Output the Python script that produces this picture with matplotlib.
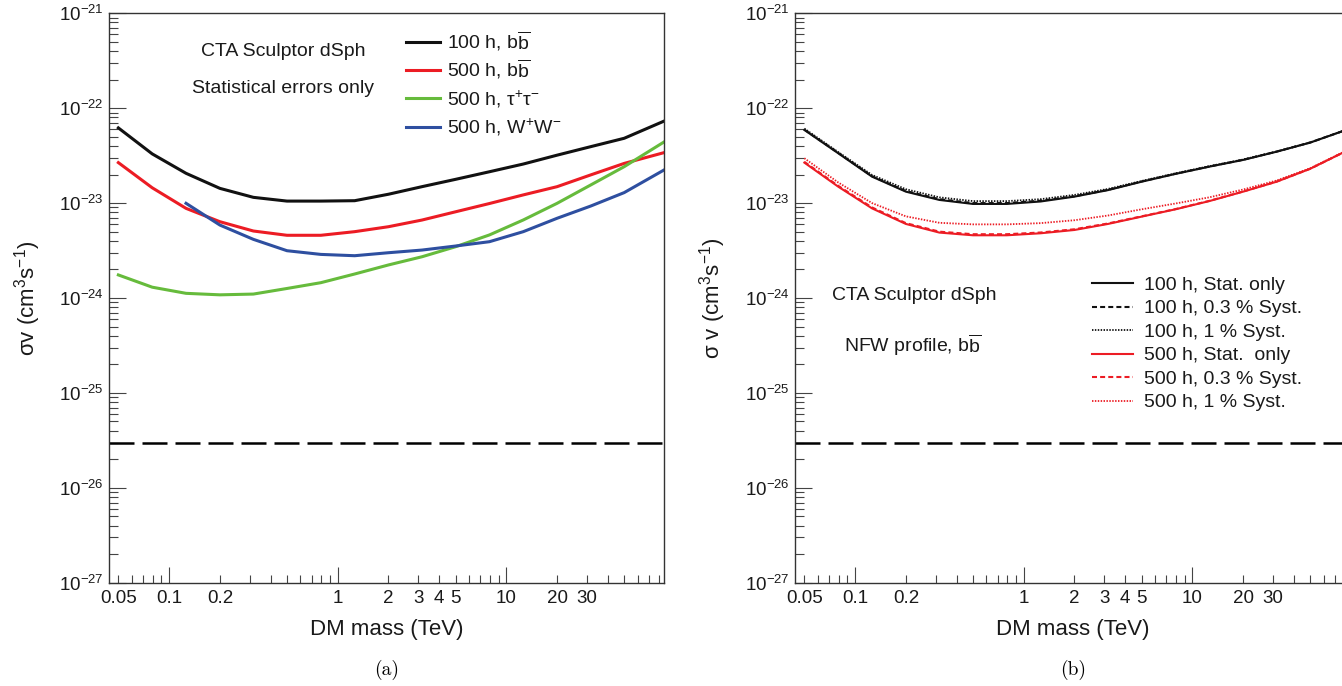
import numpy as np
import matplotlib
matplotlib.use('Agg')
import matplotlib.pyplot as plt
from matplotlib.lines import Line2D
from matplotlib.ticker import FixedLocator, FuncFormatter, NullFormatter

plt.rcParams['font.family'] = ['Liberation Sans', 'DejaVu Sans']
plt.rcParams['mathtext.fontset'] = 'custom'
plt.rcParams['mathtext.rm'] = 'Liberation Sans'
plt.rcParams['mathtext.it'] = 'Liberation Sans:italic'
plt.rcParams['mathtext.bf'] = 'Liberation Sans:bold'
plt.rcParams['mathtext.sf'] = 'Liberation Sans'
plt.rcParams['mathtext.default'] = 'rm'

# ---------------- data ----------------
mass = [0.05, 0.0794, 0.126, 0.2, 0.316, 0.5, 0.794, 1.26, 2.0, 3.16, 5.0,
        7.94, 12.6, 20.0, 31.6, 50.0, 86.0]
mass_ww = mass[2:]

# panel (a): statistical errors only
sv_bb_100h = [6.2e-23, 3.3e-23, 2.06e-23, 1.43e-23, 1.15e-23, 1.05e-23, 1.05e-23,
              1.06e-23, 1.24e-23, 1.49e-23, 1.78e-23, 2.14e-23, 2.58e-23, 3.2e-23,
              3.93e-23, 4.82e-23, 7.3e-23]
sv_bb_500h = [2.67e-23, 1.45e-23, 8.8e-24, 6.37e-24, 5.08e-24, 4.58e-24, 4.58e-24,
              5.0e-24, 5.64e-24, 6.63e-24, 8.1e-24, 9.9e-24, 1.22e-23, 1.49e-23,
              1.98e-23, 2.62e-23, 3.4e-23]
sv_tau_500h = [1.75e-24, 1.30e-24, 1.12e-24, 1.08e-24, 1.10e-24, 1.26e-24, 1.45e-24,
               1.79e-24, 2.23e-24, 2.72e-24, 3.47e-24, 4.62e-24, 6.64e-24, 9.95e-24,
               1.55e-23, 2.42e-23, 4.4e-23]
sv_ww_500h = [9.95e-24, 5.87e-24, 4.15e-24, 3.15e-24, 2.88e-24, 2.79e-24, 3.0e-24,
              3.2e-24, 3.53e-24, 3.92e-24, 5.0e-24, 6.92e-24, 9.3e-24, 1.29e-23, 2.23e-23]

# panel (b): NFW profile, b bbar, with systematics
sv_100h_stat = [5.9e-23, 3.35e-23, 1.9e-23, 1.32e-23, 1.08e-23, 9.8e-24, 9.8e-24,
                1.04e-23, 1.17e-23, 1.37e-23, 1.68e-23, 2.03e-23, 2.42e-23, 2.85e-23,
                3.48e-23, 4.34e-23, 6.1e-23]
sv_100h_s03 = [5.95e-23, 3.38e-23, 1.92e-23, 1.34e-23, 1.10e-23, 1.0e-23, 1.0e-23,
               1.06e-23, 1.18e-23, 1.38e-23, 1.69e-23, 2.04e-23, 2.43e-23, 2.86e-23,
               3.49e-23, 4.35e-23, 6.1e-23]
sv_100h_s1 = [6.1e-23, 3.45e-23, 1.98e-23, 1.4e-23, 1.15e-23, 1.05e-23, 1.05e-23,
              1.1e-23, 1.22e-23, 1.41e-23, 1.71e-23, 2.06e-23, 2.45e-23, 2.88e-23,
              3.5e-23, 4.36e-23, 6.1e-23]
sv_500h_stat = [2.67e-23, 1.49e-23, 8.8e-24, 6.03e-24, 4.89e-24, 4.58e-24, 4.58e-24,
                4.81e-24, 5.21e-24, 6.03e-24, 7.2e-24, 8.6e-24, 1.05e-23, 1.32e-23,
                1.68e-23, 2.3e-23, 3.7e-23]
sv_500h_s03 = [2.72e-23, 1.52e-23, 9.0e-24, 6.15e-24, 5.0e-24, 4.7e-24, 4.7e-24,
               4.9e-24, 5.3e-24, 6.1e-24, 7.25e-24, 8.65e-24, 1.055e-23, 1.325e-23,
               1.685e-23, 2.3e-23, 3.7e-23]
sv_500h_s1 = [2.97e-23, 1.65e-23, 1.0e-23, 7.25e-24, 6.2e-24, 5.97e-24, 5.97e-24,
              6.15e-24, 6.6e-24, 7.4e-24, 8.6e-24, 9.9e-24, 1.15e-23, 1.39e-23,
              1.73e-23, 2.33e-23, 3.72e-23]

thermal_sv = 3e-26

xtick_values = [0.05, 0.1, 0.2, 1, 2, 3, 4, 5, 10, 20, 30]
xtick_labels = ['0.05', '0.1', '0.2', '1', '2', '3', '4', '5', '10', '20', '30']

legend_a = ['100 h, b$\\overline{\\mathrm{b}}$', '500 h, b$\\overline{\\mathrm{b}}$',
            '500 h, τ$^{+}$τ$^{-}$', '500 h, W$^{+}$W$^{-}$']
legend_b = ['100 h, Stat. only', '100 h, 0.3 % Syst.', '100 h, 1 % Syst.',
            '500 h, Stat.  only', '500 h, 0.3 % Syst.', '500 h, 1 % Syst.']

# ---------------- figure ----------------
W, H = 1342, 686
fig = plt.figure(figsize=(W / 100, H / 100), dpi=100)


def fx(px):
    return px / W


def fy(py):
    return 1 - py / H


AX_TOP, AX_BOT = 13.3, 582.7
axA = fig.add_axes([fx(109), fy(AX_BOT), (664 - 109) / W, (AX_BOT - AX_TOP) / H])
axB = fig.add_axes([fx(795), fy(AX_BOT), (1350 - 795) / W, (AX_BOT - AX_TOP) / H])

XMIN, XMAX = 0.044, 86.1
x_major = [0.1, 1, 10]
x_minor = [k * 10.0 ** n for n in range(-2, 2) for k in range(2, 10)]
x_minor = [v for v in x_minor if XMIN <= v <= XMAX]
y_major = [10.0 ** n for n in range(-27, -20)]
y_minor = [k * 10.0 ** n for n in range(-27, -21) for k in range(2, 10)]


def xfmt(v, pos):
    for tv, tl in zip(xtick_values, xtick_labels):
        if abs(v - tv) / tv < 1e-6:
            return tl
    return ''


def yfmt(v, pos):
    return '$10^{%d}$' % int(round(np.log10(v)))


def style(ax):
    ax.set_xscale('log')
    ax.set_yscale('log')
    ax.set_xlim(XMIN, XMAX)
    ax.set_ylim(1e-27, 1e-21)
    ax.xaxis.set_major_locator(FixedLocator(x_major))
    ax.xaxis.set_minor_locator(FixedLocator(x_minor))
    ax.xaxis.set_major_formatter(FuncFormatter(xfmt))
    ax.xaxis.set_minor_formatter(FuncFormatter(xfmt))
    ax.yaxis.set_major_locator(FixedLocator(y_major))
    ax.yaxis.set_minor_locator(FixedLocator(y_minor))
    ax.yaxis.set_major_formatter(FuncFormatter(yfmt))
    ax.yaxis.set_minor_formatter(NullFormatter())
    ax.tick_params(axis='both', which='both', direction='in', top=False, right=False,
                   color='#444444', width=0.8, labelcolor='#1a1a1a', labelsize=13.5)
    ax.tick_params(axis='x', which='major', length=11.5, pad=5)
    ax.tick_params(axis='x', which='minor', length=5.5, pad=5)
    ax.tick_params(axis='y', which='major', length=12.5, pad=4)
    ax.tick_params(axis='y', which='minor', length=6.5)
    for s in ax.spines.values():
        s.set_color('#333333')
        s.set_linewidth(1.0)
    ax.axhline(thermal_sv, color='black', lw=1.8, dashes=(10, 3.2))
    ax.set_xlabel('DM mass (TeV)', fontsize=16, color='#1a1a1a')
    ax.xaxis.label.set_va('center')
    ax.xaxis.set_label_coords(0.5, (AX_BOT - 630) / (AX_BOT - AX_TOP))


style(axA)
style(axB)

c_black, c_red, c_green, c_blue = '#111111', '#ec1c24', '#66bb3c', '#2e4fa0'

# panel (a)
lw_a = 2.2
axA.plot(mass, sv_bb_100h, color=c_black, lw=lw_a)
axA.plot(mass, sv_bb_500h, color=c_red, lw=lw_a)
axA.plot(mass, sv_tau_500h, color=c_green, lw=lw_a)
axA.plot(mass_ww, sv_ww_500h, color=c_blue, lw=lw_a)
axA.set_ylabel('σv (cm$^{3}$s$^{-1}$)', fontsize=16, color='#1a1a1a')
axA.yaxis.label.set_va('center')
axA.yaxis.set_label_coords((28 - 109) / 555, 0.5)

# panel (b)
lw_b = 1.5
dash_b = (2.4, 1.5)
dot_b = (0.8, 0.8)
axB.plot(mass, sv_100h_stat, color=c_black, lw=lw_b)
axB.plot(mass, sv_100h_s03, color=c_black, lw=lw_b, dashes=dash_b)
axB.plot(mass, sv_100h_s1, color=c_black, lw=1.3, dashes=dot_b)
axB.plot(mass, sv_500h_stat, color=c_red, lw=lw_b)
axB.plot(mass, sv_500h_s03, color=c_red, lw=lw_b, dashes=dash_b)
axB.plot(mass, sv_500h_s1, color=c_red, lw=1.3, dashes=dot_b)
axB.set_ylabel('σ v (cm$^{3}$s$^{-1}$)', fontsize=16, color='#1a1a1a')
axB.yaxis.label.set_va('center')
axB.yaxis.set_label_coords((713 - 795) / 555, 0.5)

# annotations
fs_txt = 14
fig.text(fx(283.5), fy(51.7), 'CTA Sculptor dSph', fontsize=fs_txt, ha='center',
         va='center', color='#1a1a1a')
fig.text(fx(282.6), fy(88.3), 'Statistical errors only', fontsize=fs_txt, ha='center',
         va='center', color='#1a1a1a')
fig.text(fx(914), fy(295), 'CTA Sculptor dSph', fontsize=fs_txt, ha='center',
         va='center', color='#1a1a1a')
fig.text(fx(913), fy(345 + 7), 'NFW profile, b$\\overline{\\mathrm{b}}$', fontsize=fs_txt,
         ha='center', va='baseline', color='#1a1a1a')

# legends (manual, ROOT style)
em = fs_txt * 100 / 72
rows_a = [41.7, 70.0, 98.3, 126.7]
cols_a = [c_black, c_red, c_green, c_blue]
for y, c, lab in zip(rows_a, cols_a, legend_a):
    fig.add_artist(Line2D([fx(406), fx(440)], [fy(y), fy(y)], transform=fig.transFigure,
                          color=c, lw=lw_a))
    fig.text(fx(446.7), fy(y + 0.358 * em), lab, fontsize=fs_txt, ha='left',
             va='baseline', color='#1a1a1a')

rows_b = [283.3, 306.5, 330.0, 353.5, 377.0, 400.5]
cols_b = [c_black, c_black, c_black, c_red, c_red, c_red]
styles_b = [None, dash_b, dot_b, None, dash_b, dot_b]
for y, c, st, lab in zip(rows_b, cols_b, styles_b, legend_b):
    kw = {} if st is None else {'dashes': st}
    lw = 1.3 if st == dot_b else lw_b
    fig.add_artist(Line2D([fx(1092), fx(1133)], [fy(y), fy(y)], transform=fig.transFigure,
                          color=c, lw=lw, **kw))
    fig.text(fx(1143.5), fy(y + 0.358 * em), lab, fontsize=fs_txt, ha='left',
             va='baseline', color='#1a1a1a')

# captions
fig.text(fx(386.5), fy(670), '(a)', family='cmr10', fontsize=14, ha='center', va='center')
fig.text(fx(1073), fy(670), '(b)', family='cmr10', fontsize=14, ha='center', va='center')

fig.savefig('out.png', dpi=100)
